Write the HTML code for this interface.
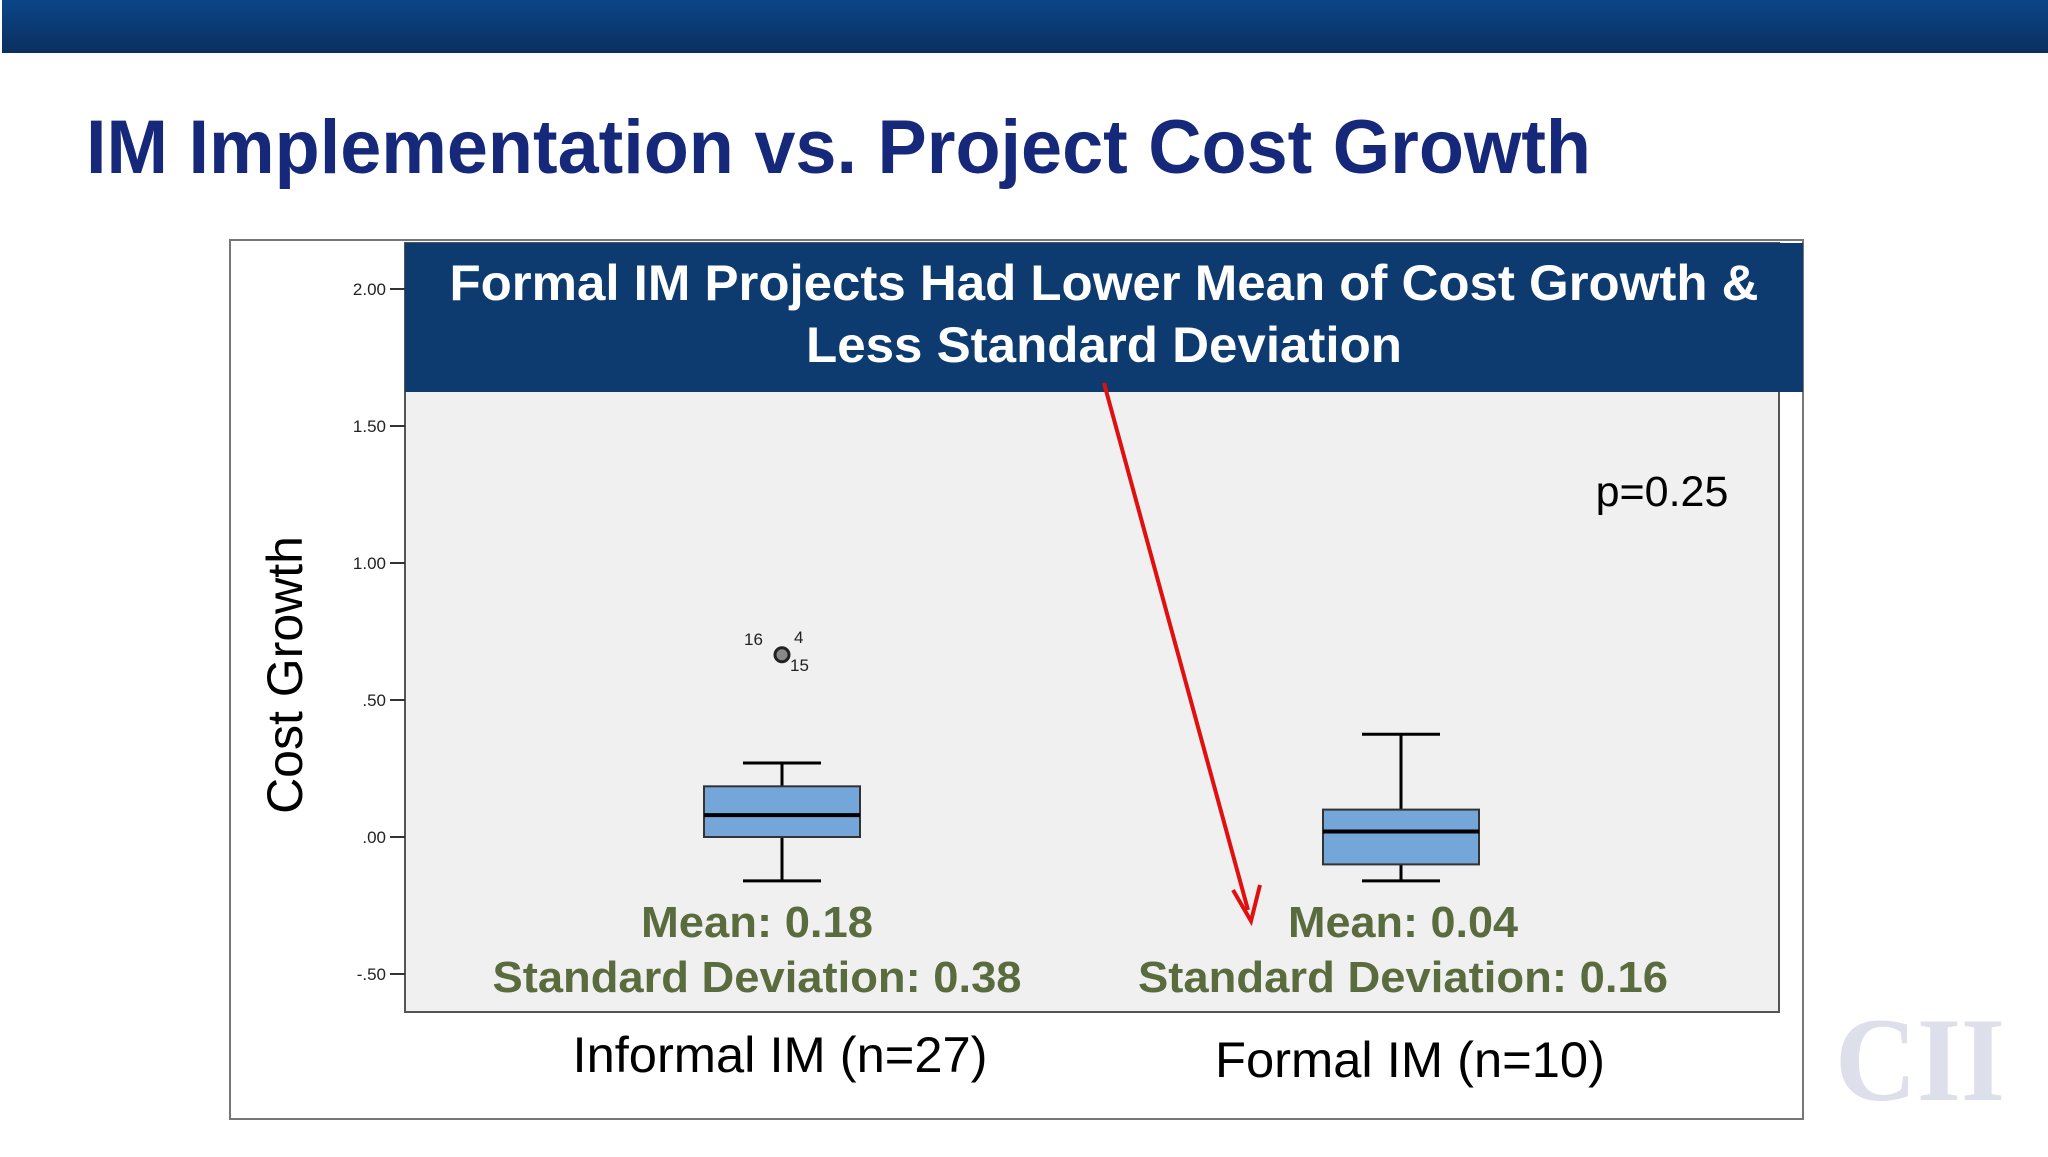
<!DOCTYPE html>
<html><head><meta charset="utf-8"><style>
html,body{margin:0;padding:0;background:#fff;}
body{width:2048px;height:1152px;overflow:hidden;font-family:"Liberation Sans",sans-serif;}
</style></head><body>
<svg id="chart" width="2048" height="1152" viewBox="0 0 2048 1152" xmlns="http://www.w3.org/2000/svg" font-family="Liberation Sans, sans-serif">
<defs><linearGradient id="tb" x1="0" y1="0" x2="0" y2="1"><stop offset="0" stop-color="#0b4588"/><stop offset="1" stop-color="#0a3060"/></linearGradient></defs>
<rect x="2" y="0" width="2046" height="53" fill="url(#tb)"/>
<text x="86" y="173" font-size="76" font-weight="bold" fill="#16287a" textLength="1505" lengthAdjust="spacingAndGlyphs">IM Implementation vs. Project Cost Growth</text>
<rect x="230" y="240" width="1573" height="879" fill="#fff" stroke="#777" stroke-width="2"/>
<rect x="405" y="243" width="1374" height="769" fill="#f0f0f0" stroke="#555" stroke-width="2"/>
<g id="axis"></g>
<g id="boxes"></g>
<rect x="405" y="243" width="1398" height="149" fill="#0d3b70"/>
<text x="1104" y="300" font-size="50" font-weight="bold" fill="#fff" text-anchor="middle" textLength="1309" lengthAdjust="spacingAndGlyphs">Formal IM Projects Had Lower Mean of Cost Growth &amp;</text>
<text x="1104" y="362" font-size="50" font-weight="bold" fill="#fff" text-anchor="middle" textLength="596" lengthAdjust="spacingAndGlyphs">Less Standard Deviation</text>
<text x="1662" y="506" font-size="43" fill="#000" text-anchor="middle">p=0.25</text>
<line x1="1104" y1="383" x2="1248" y2="910" stroke="#e01010" stroke-width="4"/>
<polyline points="1233,890 1251,921 1260,885" fill="none" stroke="#e01010" stroke-width="4"/>
<text x="757" y="937" font-size="44" font-weight="bold" fill="#5a6b3e" text-anchor="middle" textLength="232" lengthAdjust="spacingAndGlyphs">Mean: 0.18</text>
<text x="757" y="992" font-size="44" font-weight="bold" fill="#5a6b3e" text-anchor="middle" textLength="529" lengthAdjust="spacingAndGlyphs">Standard Deviation: 0.38</text>
<text x="1403" y="937" font-size="44" font-weight="bold" fill="#5a6b3e" text-anchor="middle" textLength="230" lengthAdjust="spacingAndGlyphs">Mean: 0.04</text>
<text x="1403" y="992" font-size="44" font-weight="bold" fill="#5a6b3e" text-anchor="middle" textLength="530" lengthAdjust="spacingAndGlyphs">Standard Deviation: 0.16</text>
<text transform="translate(302,675) rotate(-90)" font-size="50" fill="#000" text-anchor="middle">Cost Growth</text>
<text x="780" y="1072" font-size="50" fill="#000" text-anchor="middle" textLength="415" lengthAdjust="spacingAndGlyphs">Informal IM (n=27)</text>
<text x="1410" y="1077" font-size="50" fill="#000" text-anchor="middle" textLength="390" lengthAdjust="spacingAndGlyphs">Formal IM (n=10)</text>
<g fill="#dde0ea">
<text x="1920" y="1100" font-size="120" font-weight="bold" font-family="Liberation Serif, serif" text-anchor="middle" textLength="170" lengthAdjust="spacingAndGlyphs">CII</text>
</g>
</svg>
<script>
const ticks=[2.0,1.5,1.0,0.5,0.0,-0.5];
const tickLabels=["2.00","1.50","1.00",".50",".00","-.50"];
const groups=["Informal IM (n=27)","Formal IM (n=10)"];
const whiskerLow=[-0.16,-0.16];
const q1=[0.0,-0.10];
const median=[0.08,0.02];
const q3=[0.185,0.10];
const whiskerHigh=[0.27,0.375];
const outlierValues=[0.665];
const outlierLabels=["16","4","15"];
const NS="http://www.w3.org/2000/svg";
const y=v=>837-v*274;
const xc=i=>[782,1401][i];
function mk(t,a,p){const e=document.createElementNS(NS,t);for(const k in a)e.setAttribute(k,a[k]);p.appendChild(e);return e;}
const ax=document.getElementById('axis');
ticks.forEach((v,i)=>{
 const l=mk('line',{x1:390,x2:405,y1:y(v),y2:y(v),stroke:'#333','stroke-width':2},ax);
 
 
 const t=mk('text',{x:386,y:y(v)+6,'font-size':17,'text-anchor':'end',fill:'#222'},ax);
 
 
 t.textContent=tickLabels[i];
});
const bx=document.getElementById('boxes');
groups.forEach((g,i)=>{
 const c=xc(i),hw=78,cw=39;
 const w1=mk('line',{x1:c,x2:c,y1:y(whiskerHigh[i]),y2:y(q3[i]),stroke:'#000','stroke-width':3},bx);
 
 
 const w2=mk('line',{x1:c,x2:c,y1:y(q1[i]),y2:y(whiskerLow[i]),stroke:'#000','stroke-width':3},bx);
 
 
 [whiskerHigh[i],whiskerLow[i]].forEach(v=>{
  const cap=mk('line',{x1:c-cw,x2:c+cw,y1:y(v),y2:y(v),stroke:'#000','stroke-width':3},bx);
  
  
 });
 const r=mk('rect',{x:c-hw,width:hw*2,y:y(q3[i]),height:y(q1[i])-y(q3[i]),fill:'#74a6d9',stroke:'#333','stroke-width':2},bx);
 
 
 const m=mk('line',{x1:c-hw,x2:c+hw,y1:y(median[i]),y2:y(median[i]),stroke:'#000','stroke-width':4},bx);
 
 
});
outlierValues.forEach(v=>{
 const c=xc(0),yy=y(v);
 const o=mk('circle',{cx:c,cy:yy,r:7,fill:'#888',stroke:'#222','stroke-width':3},bx);
 
 
 [[c-38,yy-10],[c+12,yy-12],[c+8,yy+16]].forEach((p,k)=>{
  const t=mk('text',{x:p[0],y:p[1],'font-size':17,fill:'#222'},bx);
  
  
  t.textContent=outlierLabels[k];
 });
});
</script>
</body></html>
